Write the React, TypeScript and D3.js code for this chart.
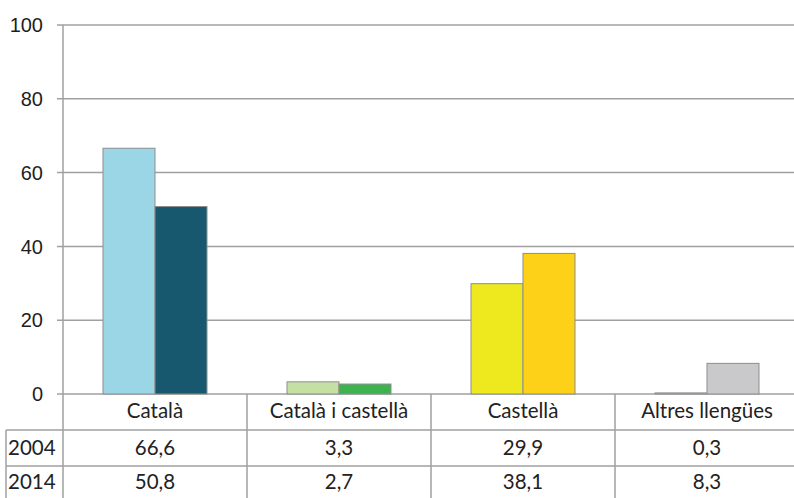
import React from "react";
import * as d3 from "d3";

const categories = ["Català", "Català i castellà", "Castellà", "Altres llengües"];
const years = ["2004", "2014"];
const values2004 = [66.6, 3.3, 29.9, 0.3];
const values2014 = [50.8, 2.7, 38.1, 8.3];
const labels2004 = ["66,6", "3,3", "29,9", "0,3"];
const labels2014 = ["50,8", "2,7", "38,1", "8,3"];
const yTicks = [0, 20, 40, 60, 80, 100];
const colors2004 = ["#9AD6E6", "#C6E0A4", "#EEE81E", "#D9D9D9"];
const colors2014 = ["#17586F", "#3CB34F", "#FDD117", "#C9C9CB"];

const W = 794;
const H = 498;
const x0 = 63;
const bandW = 184;
const yZero = 394;
const yTop = 25;
const rowTop = 430;
const rowMid = 466;

export default function App() {
  const x = d3
    .scaleBand<string>()
    .domain(categories)
    .range([x0, x0 + bandW * categories.length])
    .paddingInner(0)
    .paddingOuter(0);
  const xs = d3.scaleBand<string>().domain(years).range([0, 104]);
  const y = d3.scaleLinear().domain([0, 100]).range([yZero, yTop]);
  const offset = (bandW - 104) / 2;
  const grid = "#A0A0A0";
  const tableFont = "Lato, 'Open Sans', sans-serif";
  const tfs = 20.5;
  const rowCenters = [448, 482];

  return (
    <div style={{ position: "absolute", left: 0, top: 0 }}>
      <svg width={W} height={H} style={{ display: "block", background: "#fff" }}>
        {yTicks.map((t) => (
          <g key={t}>
            <line x1={57} x2={W} y1={y(t)} y2={y(t)} stroke={grid} strokeWidth={1.5} />
            <text
              x={43}
              y={y(t)}
              dy="0.36em"
              textAnchor="end"
              fontFamily="'Liberation Sans', Arial, sans-serif"
              fontSize={20}
              fill="#1e1e1e"
            >
              {t}
            </text>
          </g>
        ))}
        {categories.map((c, i) => {
          const bx = (x(c) ?? 0) + offset;
          const vals = [values2004[i], values2014[i]];
          const cols = [colors2004[i], colors2014[i]];
          return years.map((yr, j) => (
            <rect
              key={c + yr}
              x={bx + (xs(yr) ?? 0)}
              y={y(vals[j])}
              width={xs.bandwidth()}
              height={yZero - y(vals[j])}
              fill={cols[j]}
              stroke="#8E8E8E"
              strokeWidth={1}
            />
          ));
        })}
        <line x1={x0} x2={x0} y1={yTop} y2={H} stroke={grid} strokeWidth={1.5} />
        <line x1={6} x2={W} y1={rowTop} y2={rowTop} stroke={grid} strokeWidth={1.5} />
        <line x1={6} x2={W} y1={rowMid} y2={rowMid} stroke={grid} strokeWidth={1.5} />
        <line x1={6} x2={6} y1={rowTop} y2={H} stroke={grid} strokeWidth={1.5} />
        {categories.map((c) => (
          <line
            key={"sep" + c}
            x1={(x(c) ?? 0) + bandW}
            x2={(x(c) ?? 0) + bandW}
            y1={yZero}
            y2={H}
            stroke={grid}
            strokeWidth={1.5}
          />
        ))}
        {categories.map((c) => (
          <text
            key={"h" + c}
            x={(x(c) ?? 0) + bandW / 2}
            y={411}
            dy="0.36em"
            textAnchor="middle"
            fontFamily={tableFont}
            fontSize={tfs}
            fill="#222"
          >
            {c}
          </text>
        ))}
        {[labels2004, labels2014].map((row, r) => {
          const cy = rowCenters[r];
          return (
            <g key={"r" + r}>
              <text x={8} y={cy} dy="0.36em" fontFamily={tableFont} fontSize={tfs} fill="#222">
                {years[r]}
              </text>
              {categories.map((c, i) => (
                <text
                  key={"v" + r + c}
                  x={(x(c) ?? 0) + bandW / 2}
                  y={cy}
                  dy="0.36em"
                  textAnchor="middle"
                  fontFamily={tableFont}
                  fontSize={tfs}
                  fill="#222"
                >
                  {row[i]}
                </text>
              ))}
            </g>
          );
        })}
      </svg>
    </div>
  );
}
